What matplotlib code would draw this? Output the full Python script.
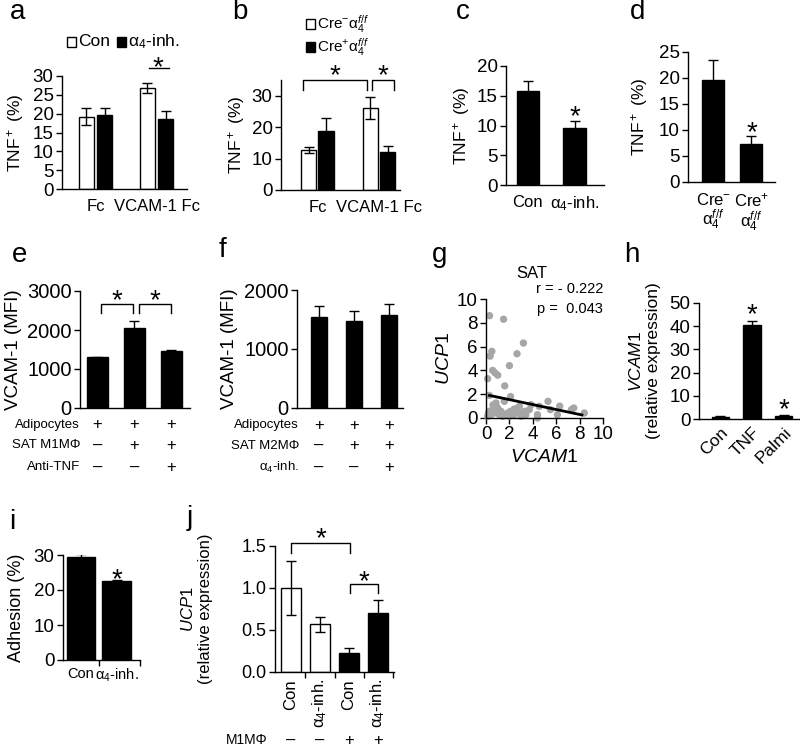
import numpy as np
import matplotlib
matplotlib.use("Agg")
import matplotlib.pyplot as plt
import matplotlib.transforms as mtrans
from matplotlib.patches import Rectangle

plt.rcParams['font.family'] = ['Liberation Sans', 'DejaVu Sans']
plt.rcParams['mathtext.fontset'] = 'custom'
plt.rcParams['mathtext.rm'] = 'Liberation Sans'
plt.rcParams['mathtext.it'] = 'Liberation Sans:italic'
plt.rcParams['mathtext.bf'] = 'Liberation Sans:bold'
plt.rcParams['font.size'] = 12
plt.rcParams['axes.linewidth'] = 1.0

# ---- data ----
# a
a_groups = ['Fc', 'VCAM-1 Fc']
a_con = [19.2, 26.8]
a_con_err = [2.2, 1.3]
a_inh = [19.7, 18.6]
a_inh_err = [1.8, 2.0]
a_legend = ['Con', 'α$_4$-inh.']
# b
b_groups = ['Fc', 'VCAM-1 Fc']
b_neg = [12.8, 26.2]
b_neg_err = [1.0, 3.5]
b_pos = [18.9, 12.0]
b_pos_err = [4.1, 2.0]
b_legend = ['Cre$^{-}$α$_4^{f/f}$', 'Cre$^{+}$α$_4^{f/f}$']
# c
c_labels = ['Con', 'α$_4$-inh.']
c_vals = [15.8, 9.6]
c_err = [1.7, 1.1]
# d
d_labels = ['Cre$^{-}$\nα$_4^{f/f}$', 'Cre$^{+}$\nα$_4^{f/f}$']
d_vals = [19.6, 7.4]
d_err = [3.9, 1.4]
# e
e_vals = [1300, 2060, 1470]
e_err = [15, 160, 25]
e_rows = ['Adipocytes', 'SAT M1MΦ', 'Anti-TNF']
e_signs = [['+', '+', '+'], ['–', '+', '+'], ['–', '–', '+']]
# f
f_vals = [1550, 1480, 1570]
f_err = [180, 165, 200]
f_rows = ['Adipocytes', 'SAT M2MΦ', 'α$_4$-inh.']
f_signs = [['+', '+', '+'], ['–', '+', '+'], ['–', '–', '+']]
# g  (SAT, VCAM1 vs UCP1)
g_vcam1 = [0.3, 1.5, 3.2, 2.65, 0.5, 0.35, 2.0, 0.57, 0.77, 1.0, 0.14, 1.6,
           0.28, 2.1, 5.3, 6.3, 7.5, 8.4, 0.85, 1.57, 1.0, 0.28, 0.43, 0.71,
           1.28, 1.85, 2.1, 2.4, 2.7, 2.85, 3.3, 3.7, 3.85, 4.4, 4.55, 5.5,
           6.1, 7.3, 1.14, 2.0, 2.4, 4.4, 0.57, 0.14, 1.42, 3.0, 3.4, 2.85,
           0.2, 0.6, 1.2]
g_ucp1 = [8.6, 8.3, 6.3, 5.4, 5.6, 5.2, 4.4, 4.0, 3.8, 3.6, 3.3, 2.7,
          1.9, 1.8, 1.4, 1.0, 0.84, 0.42, 1.26, 1.4, 0.84, 0.56, 0.28, 0.42,
          0.56, 0.42, 0.56, 0.75, 0.84, 0.42, 0.56, 0.7, 1.12, 0.28, 0.98, 0.7,
          0.28, 0.7, 0.28, 0.14, 0.28, 0.0, 0.7, 0.14, 0.14, 0.14, 0.28, 0.98,
          0.4, 1.1, 0.3]
g_fit = [1.96, -0.208]      # intercept, slope of the drawn regression line
g_fit_x = [0.3, 8.2]
g_stats = 'r = - 0.222\np =  0.043'
# h
h_labels = ['Con', 'TNF', 'Palmi']
h_vals = [1.0, 40.5, 1.5]
h_err = [0.1, 1.8, 0.2]
# i
i_labels = ['Con', 'α$_4$-inh.']
i_vals = [29.5, 22.5]
i_err = [0.8, 0.5]
# j
j_labels = ['Con', 'α$_4$-inh.', 'Con', 'α$_4$-inh.']
j_vals = [1.00, 0.57, 0.23, 0.70]
j_err = [0.32, 0.09, 0.06, 0.16]
j_colors = ['white', 'white', 'black', 'black']
j_m1 = ['–', '–', '+', '+']

W, H = 800, 748
fig = plt.figure(figsize=(W / 100, H / 100), dpi=100)


def panel(x0, x1, ytop, ybot, tsize=13.5):
    # axes placed in pixel coords (y measured from the top)
    ax = fig.add_axes([x0 / W, 1 - ybot / H, (x1 - x0) / W, (ybot - ytop) / H])
    ax.spines['top'].set_visible(False)
    ax.spines['right'].set_visible(False)
    ax.tick_params(axis='x', length=0, pad=7, labelsize=12)
    ax.tick_params(axis='y', length=4, width=1, pad=2, labelsize=tsize)
    return ax


def ylab(ax, text, xpx, size=12.5):
    ax.set_ylabel(text, fontsize=size)
    tr = mtrans.blended_transform_factory(fig.transFigure, ax.transAxes)
    ax.yaxis.set_label_coords(xpx / W, 0.5, transform=tr)


def bars(ax, x, vals, err, color, width):
    ax.bar(x, vals, width, color=color, edgecolor='black', linewidth=1, zorder=2)
    ax.errorbar(x, vals, yerr=err, fmt='none', ecolor='black', elinewidth=1,
                capsize=3.5, capthick=1, zorder=3)


def star(ax, x, y):
    tr = mtrans.offset_copy(ax.transData, fig=fig, x=0, y=-7, units='dots')
    ax.text(x, y, '*', ha='center', va='center', fontsize=20, transform=tr)


def bracket(ax, x0, x1, y, drop, star_y):
    ax.plot([x0, x0, x1, x1], [y - drop, y, y, y - drop], color='black', lw=1, clip_on=False)
    star(ax, (x0 + x1) / 2, star_y)


def key(x, y, color, label, size=12.5):
    # legend square + label, pixel position of the square's left/centre
    fig.add_artist(Rectangle((x / W, 1 - (y + 4.5) / H), 9 / W, 9 / H, transform=fig.transFigure,
                             facecolor=color, edgecolor='black', linewidth=1))
    fig.text((x + 11) / W, 1 - y / H, label, ha='left', va='center', fontsize=size)


def letter(x, y, s):
    fig.text(x / W, 1 - y / H, s, fontsize=20, ha='center', va='center')


# ---------------- a ----------------
ax = panel(62, 187, 76, 189)
xa = np.arange(len(a_groups))
bars(ax, xa - 0.15, a_con, a_con_err, 'white', 0.25)
bars(ax, xa + 0.15, a_inh, a_inh_err, 'black', 0.25)
ax.set_xlim(-0.55, 1.5)
ax.set_ylim(0, 30)
ax.set_yticks([0, 5, 10, 15, 20, 25, 30])
ax.set_xticks(xa)
ax.set_xticklabels(a_groups)
ax.plot([0.87, 1.2], [32.1, 32.1], color='black', lw=1, clip_on=False)
star(ax, 1.03, 34.0)
ylab(ax, 'TNF$^+$ (%)', 26)
key(67, 42, 'white', a_legend[0])
key(117, 42, 'black', a_legend[1])
letter(18, 12, 'a')

# ---------------- b ----------------
ax = panel(281, 400, 80, 190)
xb = np.arange(len(b_groups))
bars(ax, xb - 0.14, b_neg, b_neg_err, 'white', 0.25)
bars(ax, xb + 0.14, b_pos, b_pos_err, 'black', 0.25)
ax.set_xlim(-0.59, 1.34)
ax.set_ylim(0, 35)
ax.set_yticks([0, 10, 20, 30])
ax.set_xticks(xb)
ax.set_xticklabels(b_groups)
bracket(ax, -0.24, 0.8, 35.1, 3.2, 38.3)
bracket(ax, 0.89, 1.24, 35.1, 3.2, 38.3)
ylab(ax, 'TNF$^+$ (%)', 247)
key(306, 24, 'white', b_legend[0], size=11)
key(306, 47, 'black', b_legend[1], size=11)
letter(240, 12, 'b')

# ---------------- c ----------------
ax = panel(506, 604, 66, 185)
xc = np.arange(len(c_labels))
bars(ax, xc, c_vals, c_err, 'black', 0.48)
ax.set_xlim(-0.47, 1.63)
ax.set_ylim(0, 20)
ax.set_yticks([0, 5, 10, 15, 20])
ax.set_xticks(xc)
ax.set_xticklabels(c_labels)
star(ax, 1, 12.6)
ylab(ax, 'TNF$^+$ (%)', 472)
letter(463, 12, 'c')

# ---------------- d ----------------
ax = panel(688, 775, 52, 182)
xd = np.arange(len(d_labels))
bars(ax, xd, d_vals, d_err, 'black', 0.58)
ax.set_xlim(-0.67, 1.62)
ax.set_ylim(0, 25)
ax.set_yticks([0, 5, 10, 15, 20, 25])
ax.set_xticks(xd)
ax.set_xticklabels(d_labels, linespacing=1.0)
star(ax, 1, 10.8)
ylab(ax, 'TNF$^+$ (%)', 650)
letter(638, 12, 'd')

# ---------------- e ----------------
ax = panel(80, 190, 291, 408, tsize=14.5)
xe = np.arange(len(e_vals))
bars(ax, xe, e_vals, e_err, 'black', 0.55)
ax.set_xlim(-0.47, 2.5)
ax.set_ylim(0, 3000)
ax.set_yticks([0, 1000, 2000, 3000])
ax.set_xticks([])
bracket(ax, 0.1, 0.95, 2670, 230, 2930)
bracket(ax, 1.12, 2.0, 2670, 230, 2930)
ylab(ax, 'VCAM-1 (MFI)', 22, size=13.5)
for r, (name, signs) in enumerate(zip(e_rows, e_signs)):
    yy = [-0.145, -0.32, -0.505][r]
    ax.text(0.0, yy, name, transform=ax.transAxes, ha='right', va='center', fontsize=9.5)
    for k, s in enumerate(signs):
        ax.text(xe[k], yy, s, transform=ax.get_xaxis_transform(), ha='center', va='center', fontsize=12)
letter(20, 255, 'e')

# ---------------- f ----------------
ax = panel(297, 403, 290, 408, tsize=14.5)
xf = np.arange(len(f_vals))
bars(ax, xf, f_vals, f_err, 'black', 0.48)
ax.set_xlim(-0.63, 2.4)
ax.set_ylim(0, 2000)
ax.set_yticks([0, 1000, 2000])
ax.set_xticks([])
ylab(ax, 'VCAM-1 (MFI)', 238, size=13.5)
for r, (name, signs) in enumerate(zip(f_rows, f_signs)):
    yy = [-0.145, -0.32, -0.505][r]
    ax.text(0.02, yy, name, transform=ax.transAxes, ha='right', va='center', fontsize=9.5)
    for k, s in enumerate(signs):
        ax.text(xf[k], yy, s, transform=ax.get_xaxis_transform(), ha='center', va='center', fontsize=12)
letter(222, 250, 'f')

# ---------------- g ----------------
ax = panel(486, 603, 299, 418)
ax.scatter(g_vcam1, g_ucp1, s=28, color='#a6a6a6', edgecolors='none', zorder=2, clip_on=False)
fx = np.array(g_fit_x)
ax.plot(fx, g_fit[0] + g_fit[1] * fx, color='black', lw=2, zorder=3)
ax.set_xlim(0, 10)
ax.set_ylim(0, 10)
ax.set_xticks([0, 2, 4, 6, 8, 10])
ax.set_yticks([0, 2, 4, 6, 8, 10])
ax.tick_params(axis='both', length=4, width=1, pad=2, labelsize=13.5)
ax.set_xlabel('$\\mathit{VCAM1}$', fontsize=14, labelpad=4)
ylab(ax, '$\\mathit{UCP1}$', 453, size=14)
ax.text(1.0, 1.0, g_stats, transform=ax.transAxes, ha='right', va='center', fontsize=10.5, linespacing=1.5)
fig.text(532 / W, 1 - 273 / H, 'SAT', ha='center', va='center', fontsize=12)
letter(440, 255, 'g')

# ---------------- h ----------------
ax = panel(699, 800, 303, 419)
xh = np.arange(len(h_labels))
bars(ax, xh, h_vals, h_err, 'black', 0.55)
ax.set_xlim(-0.68, 2.52)
ax.set_ylim(0, 50)
ax.set_yticks([0, 10, 20, 30, 40, 50])
ax.set_xticks(xh)
ax.set_xticklabels(h_labels, rotation=45, ha='right', va='top', rotation_mode='anchor', fontsize=12.5)
ax.tick_params(axis='x', pad=4)
star(ax, 1, 47.8)
star(ax, 2, 6.9)
ylab(ax, '$\\mathit{VCAM1}$\n(relative expression)', 661)
letter(632, 255, 'h')

# ---------------- i ----------------
ax = panel(63, 140, 555, 660)
xi = np.arange(len(i_labels))
bars(ax, xi, i_vals, i_err, 'black', 0.8)
ax.set_xlim(-0.51, 1.66)
ax.set_ylim(0, 30)
ax.set_yticks([0, 10, 20, 30])
ax.set_xticks(xi)
ax.set_xticklabels(i_labels, fontsize=10.5)
ax.set_xticks([0.5, 1.66], minor=True)
ax.tick_params(axis='x', which='minor', length=4, width=1)
ax.tick_params(axis='x', pad=5)
star(ax, 1, 24.8)
ylab(ax, 'Adhesion (%)', 25, size=13)
letter(12, 522, 'i')

# ---------------- j ----------------
ax = panel(275, 394, 546, 672, tsize=13)
xj = np.arange(len(j_labels))
for k in range(len(xj)):
    bars(ax, [xj[k]], [j_vals[k]], [j_err[k]], j_colors[k], 0.72)
ax.set_xlim(-0.55, 3.55)
ax.set_ylim(0, 1.5)
ax.set_yticks([0, 0.5, 1.0, 1.5])
ax.set_yticklabels(['0.0', '0.5', '1.0', '1.5'])
ax.set_xticks(xj)
ax.set_xticklabels(j_labels, rotation=90, ha='center', va='top', fontsize=12)
ax.set_xticks([0.5, 1.5, 2.5, 3.5], minor=True)
ax.tick_params(axis='x', which='minor', length=4, width=1)
ax.tick_params(axis='x', pad=5)
bracket(ax, 0, 2.05, 1.535, 0.115, 1.67)
bracket(ax, 2.05, 3.0, 1.05, 0.11, 1.15)
ylab(ax, '$\\mathit{UCP1}$\n(relative expression)', 213, size=12)
ax.text(-0.06, -0.54, 'M1MΦ', transform=ax.transAxes, ha='right', va='center', fontsize=10)
for k, s in enumerate(j_m1):
    ax.text(xj[k], -0.54, s, transform=ax.get_xaxis_transform(), ha='center', va='center', fontsize=12)
letter(190, 518, 'j')

fig.savefig('out.png', dpi=100)
